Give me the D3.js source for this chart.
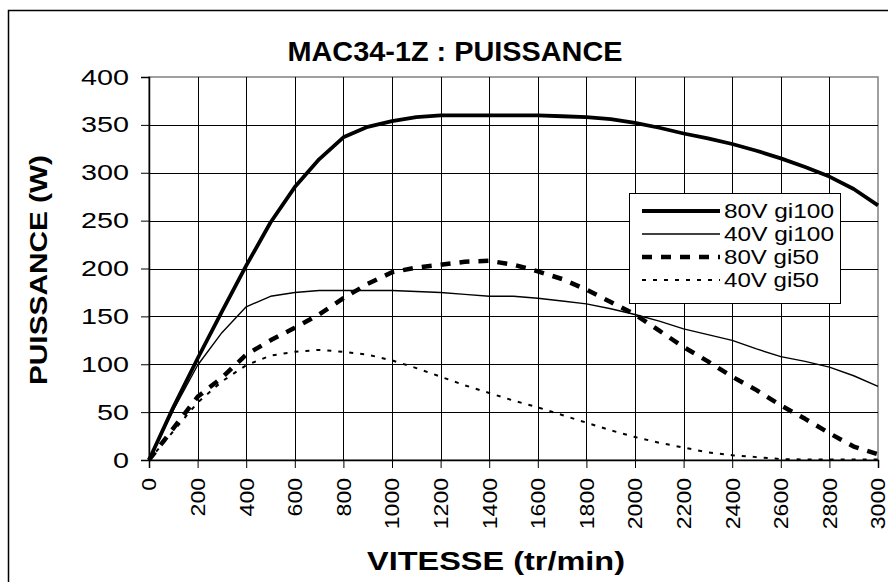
<!DOCTYPE html>
<html><head><meta charset="utf-8">
<script src="https://cdn.jsdelivr.net/npm/d3@7"></script>
<style>body{margin:0;background:#fff}svg{display:block}text{font-family:"Liberation Sans",Arial,sans-serif}</style>
</head><body>
<svg id="c" width="888" height="582"></svg>
<script>
const speeds = [0,100,200,300,400,500,600,700,800,900,1000,1100,1200,1300,1400,1500,1600,1700,1800,1900,2000,2100,2200,2300,2400,2500,2600,2700,2800,2900,3000];
const v80gi100 = [0,55,106,155,203,248,285,314,337,348,354,358,360,360,360,360,360,359,358,356,352,347,341,336,330,323,315,306,296,283,266];
const v40gi100 = [0,52,99,133,160,171,175,177,177,177,177,176,175,173,171,171,169,166,163,158,152,145,137,131,125,116,108,103,97,88,77];
const v80gi50 = [0,33,66,86,110,125,138,152,169,184,196,201,204,207,208,204,197,189,178,165,152,135,118,103,87,73,57,43,28,14,6];
const v40gi50 = [0,30,60,82,99,109,113,115,113,110,104,96,87,78,70,62,55,47,39,31,24,18,13,8,5,3,1,0.5,0.5,0.5,0.5];
const seriesNames = ["80V gi100","40V gi100","80V gi50","40V gi50"];
const xTicks = d3.range(0,3001,200);
const yTicks = d3.range(0,401,50);

const styles = [
  {w:3.8, dash:null},
  {w:1.4, dash:null},
  {w:4.5, dash:"10,9"},
  {w:2, dash:"4,7"}
];
const allSeries = [v80gi100,v40gi100,v80gi50,v40gi50];

const svg = d3.select("#c");
const x = d3.scaleLinear().domain([0,3000]).range([149,878]);
const y = d3.scaleLinear().domain([0,400]).range([460,77]);

// outer frame
svg.append("rect").attr("x",8.5).attr("y",10.5).attr("width",900).attr("height",600)
  .attr("fill","none").attr("stroke","#000").attr("stroke-width",1.5);

// plot border (gray)
svg.append("rect").attr("x",x(0)).attr("y",y(400)).attr("width",x(3000)-x(0)).attr("height",y(0)-y(400))
  .attr("fill","none").attr("stroke","#808080").attr("stroke-width",1.5);

// grid
const g = svg.append("g");
g.selectAll(".vg").data(xTicks.filter(d=>d>0&&d<3000)).join("line")
  .attr("x1",d=>Math.round(x(d))+0.5).attr("x2",d=>Math.round(x(d))+0.5)
  .attr("y1",y(400)).attr("y2",y(0)).attr("stroke","#000").attr("stroke-width",1);
g.selectAll(".hg").data(yTicks.filter(d=>d>0&&d<400)).join("line")
  .attr("y1",d=>Math.round(y(d))+0.5).attr("y2",d=>Math.round(y(d))+0.5)
  .attr("x1",x(0)).attr("x2",x(3000)).attr("stroke","#000").attr("stroke-width",1);

// axes
const yAxis = svg.append("g").attr("transform",`translate(${x(0)},0)`)
  .call(d3.axisLeft(y).tickValues(yTicks).tickSize(8).tickPadding(12).tickFormat(d3.format("d")));
yAxis.select(".domain").attr("stroke","#000").attr("stroke-width",1.5);
yAxis.selectAll(".tick line").attr("stroke","#000");
yAxis.selectAll("text").attr("font-size",22).attr("fill","#000")
  .attr("textLength",function(d){return String(d).length*16;}).attr("lengthAdjust","spacingAndGlyphs");

const xAxis = svg.append("g").attr("transform",`translate(0,${y(0)})`)
  .call(d3.axisBottom(x).tickValues(xTicks).tickSize(8).tickFormat(d3.format("d")));
xAxis.select(".domain").attr("stroke","#000").attr("stroke-width",1.5);
xAxis.selectAll(".tick line").attr("stroke","#000");
xAxis.selectAll("text").attr("font-size",21).attr("fill","#000")
  .attr("transform","rotate(-90)").attr("text-anchor","end")
  .attr("x",-18).attr("y",0).attr("dy","0.33em")
  .attr("textLength",function(d){return String(d).length*12.8;}).attr("lengthAdjust","spacingAndGlyphs");

// lines
const line = d3.line().x((d,i)=>x(speeds[i])).y(d=>y(d));
allSeries.forEach((s,k)=>{
  svg.append("path").datum(s).attr("d",line).attr("fill","none")
    .attr("stroke","#000").attr("stroke-width",styles[k].w)
    .attr("stroke-dasharray",styles[k].dash).attr("stroke-linejoin","round");
});

// legend
const lg = svg.append("g");
lg.append("rect").attr("x",629.5).attr("y",193.5).attr("width",211).attr("height",110)
  .attr("fill","#fff").attr("stroke","#000").attr("stroke-width",1);
const rowY = [211,234,257,280];
seriesNames.forEach((n,k)=>{
  lg.append("line").attr("x1",642).attr("x2",720).attr("y1",rowY[k]).attr("y2",rowY[k])
    .attr("stroke","#000").attr("stroke-width",styles[k].w).attr("stroke-dasharray",styles[k].dash);
  lg.append("text").attr("x",724).attr("y",rowY[k]).attr("dy","0.35em")
    .attr("font-size",20).attr("textLength",n.length>8?110:95).attr("lengthAdjust","spacingAndGlyphs")
    .text(n);
});

// titles
svg.append("text").attr("x",455).attr("y",61).attr("text-anchor","middle")
  .attr("font-size",27).attr("font-weight","bold").attr("textLength",335).attr("lengthAdjust","spacingAndGlyphs")
  .text("MAC34-1Z : PUISSANCE");
svg.append("text").attr("x",496).attr("y",570).attr("text-anchor","middle")
  .attr("font-size",26).attr("font-weight","bold").attr("textLength",258).attr("lengthAdjust","spacingAndGlyphs")
  .text("VITESSE (tr/min)");
svg.append("text").attr("transform","translate(47,270) rotate(-90)").attr("text-anchor","middle")
  .attr("font-size",24).attr("font-weight","bold").attr("textLength",230).attr("lengthAdjust","spacingAndGlyphs")
  .text("PUISSANCE (W)");
</script>
</body></html>
